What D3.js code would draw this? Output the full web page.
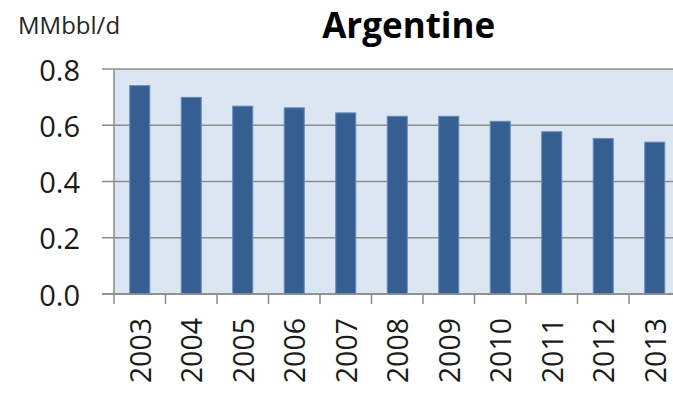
<!DOCTYPE html>
<html>
<head>
<meta charset="utf-8">
<script src="https://cdn.jsdelivr.net/npm/d3@7"></script>
<style>
  html, body { margin: 0; padding: 0; background: #ffffff; }
  svg { display: block; }
</style>
</head>
<body>
<svg id="chart" width="673" height="393"></svg>
<script>
const title = "Argentine";
const unitLabel = "MMbbl/d";
const years = ["2003","2004","2005","2006","2007","2008","2009","2010","2011","2012","2013"];
const production = [0.741, 0.699, 0.668, 0.662, 0.644, 0.632, 0.632, 0.614, 0.577, 0.553, 0.540];
const yTicks = [0, 0.2, 0.4, 0.6, 0.8];

const svg = d3.select("#chart");
const plotLeft = 114, plotRight = 680.5, plotTop = 69, plotBottom = 294;
const font = "'Open Sans', 'Noto Sans', sans-serif";
const gridColor = "#8c8c8c";

const x = d3.scaleBand().domain(years).range([plotLeft, plotRight]).paddingInner(0.61).paddingOuter(0.305);
const y = d3.scaleLinear().domain([0, 0.8]).range([plotBottom, plotTop]);

// plot background
svg.append("rect")
  .attr("x", plotLeft).attr("y", plotTop)
  .attr("width", plotRight - plotLeft).attr("height", plotBottom - plotTop)
  .attr("fill", "#dce6f2");

// gridlines + y ticks
svg.append("g").selectAll("line").data(yTicks).join("line")
  .attr("x1", plotLeft - 12).attr("x2", plotRight)
  .attr("y1", d => y(d)).attr("y2", d => y(d))
  .attr("stroke", gridColor).attr("stroke-width", 1.5);

// left axis line
svg.append("line")
  .attr("x1", plotLeft).attr("x2", plotLeft).attr("y1", plotTop).attr("y2", plotBottom)
  .attr("stroke", gridColor).attr("stroke-width", 1.5);

// x ticks at category boundaries
const gap = x.step() - x.bandwidth();
const boundaries = years.map(d => x(d) - gap / 2).concat([x(years[years.length - 1]) + x.bandwidth() + gap / 2]);
svg.append("g").selectAll("line").data(boundaries).join("line")
  .attr("x1", d => d).attr("x2", d => d)
  .attr("y1", plotBottom).attr("y2", plotBottom + 10)
  .attr("stroke", gridColor).attr("stroke-width", 1.5);

// bars
svg.append("g").selectAll("rect").data(years).join("rect")
  .attr("x", d => x(d))
  .attr("y", (d, i) => y(production[i]))
  .attr("width", x.bandwidth())
  .attr("height", (d, i) => y(0) - y(production[i]))
  .attr("fill", "#365f91")
  .attr("stroke", "#6a8cc0")
  .attr("stroke-width", 1);

// redraw baseline over bars
svg.append("line")
  .attr("x1", plotLeft - 12).attr("x2", plotRight).attr("y1", plotBottom).attr("y2", plotBottom)
  .attr("stroke", gridColor).attr("stroke-width", 1.5);

// y tick labels
svg.append("g").selectAll("text").data(yTicks).join("text")
  .attr("x", 80).attr("y", d => y(d))
  .attr("text-anchor", "end").attr("dominant-baseline", "central")
  .attr("font-family", font).attr("font-size", 29).attr("fill", "#1a1a1a")
  .text(d => d.toFixed(1));

// x labels (rotated)
svg.append("g").selectAll("text").data(years).join("text")
  .attr("transform", d => `translate(${x(d) + x.bandwidth() / 2},318) rotate(-90)`)
  .attr("text-anchor", "end").attr("dominant-baseline", "central")
  .attr("font-family", font).attr("font-size", 28.5).attr("fill", "#1a1a1a")
  .text(d => d);

// unit label
svg.append("text")
  .attr("x", 18).attr("y", 34)
  .attr("font-family", font).attr("font-size", 24).attr("fill", "#262626")
  .text(unitLabel);

// title
svg.append("text")
  .attr("x", 408.7).attr("y", 38)
  .attr("text-anchor", "middle")
  .attr("font-family", font).attr("font-size", 35).attr("font-weight", "bold").attr("fill", "#000")
  .text(title);
</script>
</body>
</html>
